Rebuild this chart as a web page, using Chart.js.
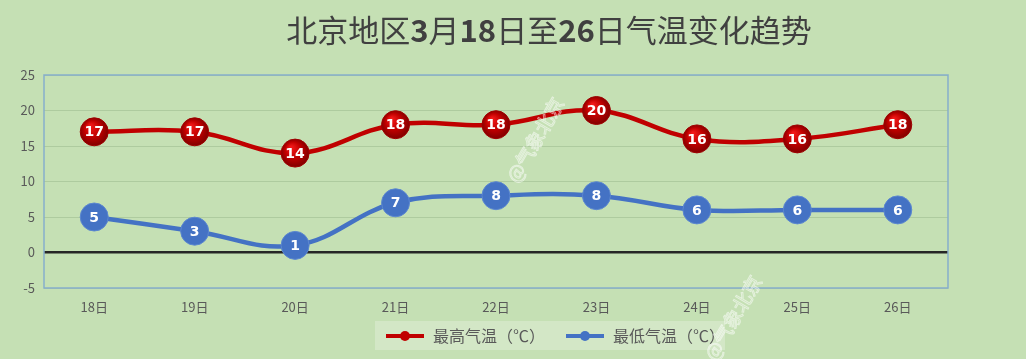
<!DOCTYPE html>
<html><head><meta charset="utf-8">
<script src="https://cdn.jsdelivr.net/npm/chart.js@4"></script>
<style>html,body{margin:0;padding:0;background:#c5e0b4;}#wrap{width:1026px;height:359px;}</style>
</head><body><div id="wrap"><canvas id="c" width="1026" height="359"></canvas></div>
<script>
const categories = ['18日','19日','20日','21日','22日','23日','24日','25日','26日'];
const highTemps = [17,17,14,18,18,20,16,16,18];
const lowTemps = [5,3,1,7,8,8,6,6,6];
const seriesNames = ['最高气温（℃）','最低气温（℃）'];
const titleParts = [['北京地区',false],['3',true],['月',false],['18',true],['日至',false],['26',true],['日气温变化趋势',false]];
const watermarkText = '@气象北京';
const FONT = '"Noto Sans CJK SC","Noto Sans",sans-serif';
const CENTER_X = 550;

function legendIcon(color){
  const cv=document.createElement('canvas');cv.width=50;cv.height=12;
  const g=cv.getContext('2d');
  g.strokeStyle=color;g.lineWidth=4;g.beginPath();g.moveTo(11,6);g.lineTo(49,6);g.stroke();
  g.fillStyle=color;g.beginPath();g.arc(30,6,5,0,Math.PI*2);g.fill();
  return cv;
}
const icons=[legendIcon('#c00000'),legendIcon('#4472c4')];

function redFill(ctx){
  const el=ctx.element;
  if(!el||el.x===undefined||isNaN(el.x)) return '#c00000';
  const g=ctx.chart.ctx.createRadialGradient(el.x-4,el.y-6,1,el.x,el.y,15);
  g.addColorStop(0,'#f01818');g.addColorStop(0.5,'#c00000');g.addColorStop(1,'#7a0000');
  return g;
}

const bgPlugin={id:'bg',
  afterLayout(chart){const lg=chart.legend;if(lg){const mid=(lg.left+lg.right)/2;const d=CENTER_X-mid;lg.left+=d;lg.right+=d;}},
  beforeDraw(chart){const c=chart.ctx;c.save();c.fillStyle='#c5e0b4';c.fillRect(0,0,chart.width,chart.height);
    const lg=chart.legend;
    if(lg){const cy=(lg.top+lg.bottom)/2;c.fillStyle='#d3e7c6';c.fillRect(CENTER_X-175,cy-15,350,29);}
    c.fillStyle='#404040';c.textBaseline='middle';
    let total=0;titleParts.forEach(p=>{c.font=(p[1]?'bold ':'')+'31px '+FONT;total+=c.measureText(p[0]).width;});
    let x=549-total/2;
    titleParts.forEach(p=>{c.font=(p[1]?'bold ':'')+'31px '+FONT;c.textAlign='left';c.fillText(p[0],x,30);x+=c.measureText(p[0]).width;});
    c.restore();},
  afterDraw(chart){const c=chart.ctx,a=chart.chartArea;c.save();c.strokeStyle='#86aecb';c.lineWidth=1.5;
    c.strokeRect(a.left,a.top,a.right-a.left,a.bottom-a.top);
    c.font='19px '+FONT;c.strokeStyle='rgba(255,255,255,0.55)';c.lineWidth=1;
    [[535,140],[733,318]].forEach(p=>{c.save();c.translate(p[0],p[1]);c.rotate(-Math.PI/3);c.textAlign='center';c.textBaseline='middle';c.strokeText(watermarkText,0,0);c.restore();});
    c.restore();}
};
const labelPlugin={id:'vals',
  afterDatasetsDraw(chart){const c=chart.ctx;c.save();c.font='bold 14px "DejaVu Sans",sans-serif';c.fillStyle='#ffffff';c.textAlign='center';c.textBaseline='middle';
    chart.data.datasets.forEach((ds,i)=>{chart.getDatasetMeta(i).data.forEach((p,j)=>{c.fillText(String(ds.data[j]),p.x,p.y+1);});});c.restore();}
};

new Chart(document.getElementById('c'),{
  type:'line',
  data:{labels:categories,datasets:[
    {label:seriesNames[0],data:highTemps,borderColor:'#c00000',borderWidth:4.5,tension:0.4,
     pointRadius:14,pointHoverRadius:14,pointBackgroundColor:redFill,pointBorderColor:'#a00000',pointBorderWidth:1},
    {label:seriesNames[1],data:lowTemps,borderColor:'#4472c4',borderWidth:4.5,tension:0.4,
     pointRadius:14,pointHoverRadius:14,pointBackgroundColor:'#4472c4',pointBorderColor:'#5b87d0',pointBorderWidth:1}
  ]},
  options:{responsive:false,animation:false,
    layout:{padding:{left:0,right:78,top:75,bottom:5}},
    plugins:{
      title:{display:false},
      legend:{position:'bottom',labels:{color:'#595959',font:{family:FONT,size:16},usePointStyle:true,pointStyleWidth:50,padding:10,boxWidth:50,
        generateLabels(chart){return chart.data.datasets.map((d,i)=>({text:d.label,pointStyle:icons[i],fillStyle:d.borderColor,strokeStyle:d.borderColor,lineWidth:0,datasetIndex:i,fontColor:'#595959'}));}}},
      tooltip:{enabled:false}
    },
    scales:{
      x:{offset:true,grid:{display:false,drawTicks:false},border:{display:false},ticks:{color:'#595959',font:{family:FONT,size:13},padding:11},
        afterFit(s){s.height=30;}},
      y:{min:-5,max:25,ticks:{stepSize:5,color:'#595959',font:{family:FONT,size:13},padding:9},
        border:{display:false},
        grid:{drawTicks:false,color:c=>c.tick&&c.tick.value===0?'#262626':'#aecb9f',lineWidth:c=>c.tick&&c.tick.value===0?2.5:1},
        afterFit(s){s.width=44;}}
    }
  },
  plugins:[bgPlugin,labelPlugin]
});
</script></body></html>
